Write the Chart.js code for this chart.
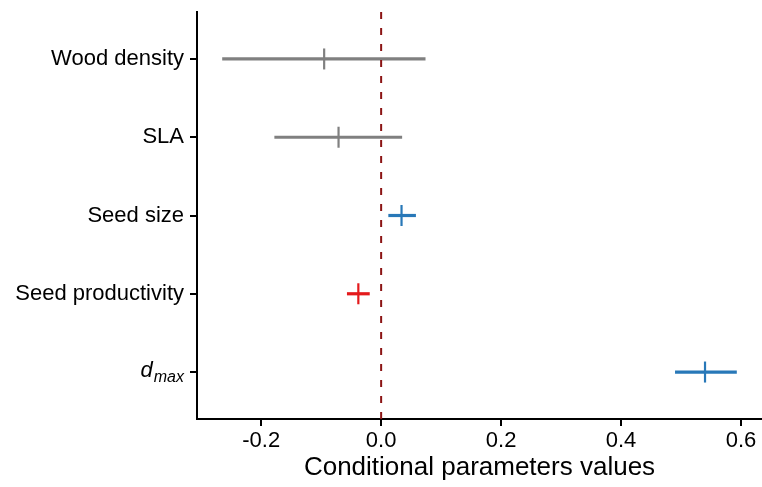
<!DOCTYPE html>
<html>
<head>
<meta charset="utf-8">
<script src="https://cdn.jsdelivr.net/npm/chart.js@4"></script>
<style>
html,body{margin:0;padding:0;background:#fff;}
canvas{display:block;}
</style>
</head>
<body>
<canvas id="c" width="762" height="487"></canvas>
<script>
const categories = ['Wood density', 'SLA', 'Seed size', 'Seed productivity', 'd_max'];
const estimates = [-0.095, -0.071, 0.034, -0.038, 0.540];
const lowerCI = [-0.265, -0.178, 0.012, -0.057, 0.490];
const upperCI = [0.074, 0.035, 0.058, -0.019, 0.593];
const pointColors = ['#808080', '#808080', '#2878B8', '#E41A1C', '#2878B8'];
const xTicks = [-0.2, 0.0, 0.2, 0.4, 0.6];
const xTitle = 'Conditional parameters values';

const FONT = '"Liberation Sans", Arial, Helvetica, sans-serif';

const datasets = [];
// reference line at zero
datasets.push({
  type: 'line',
  data: [{x: 0, y: 0.4}, {x: 0, y: 5.6}],
  borderColor: '#8B1414',
  borderWidth: 2,
  borderDash: [7, 9],
  pointRadius: 0,
  order: 0
});
// center marks
datasets.push({
  type: 'scatter',
  data: estimates.map((v, i) => ({x: v, y: i + 1})),
  pointStyle: 'line',
  rotation: 90,
  pointRadius: 10.5,
  borderWidth: 2.2,
  borderColor: pointColors,
  backgroundColor: pointColors,
  order: 1
});
// intervals
categories.forEach((c, i) => {
  datasets.push({
    type: 'line',
    data: [{x: lowerCI[i], y: i + 1}, {x: upperCI[i], y: i + 1}],
    borderColor: pointColors[i],
    borderWidth: 3.2,
    borderCapStyle: 'butt',
    pointRadius: 0,
    order: 2
  });
});

const dmaxPlugin = {
  id: 'dmax',
  afterDraw(chart) {
    const ys = chart.scales.y;
    const ctx = chart.ctx;
    const idx = categories.indexOf('d_max');
    const yc = ys.getPixelForValue(idx + 1);
    const rightX = ys.right - 7 - 6;
    ctx.save();
    ctx.fillStyle = '#000';
    ctx.textAlign = 'right';
    ctx.textBaseline = 'alphabetic';
    ctx.font = 'italic 16px ' + FONT;
    const w = ctx.measureText('max').width;
    ctx.fillText('max', rightX, yc + 9.5);
    ctx.font = 'italic 22px ' + FONT;
    ctx.fillText('d', rightX - w - 1, yc + 5);
    ctx.restore();
  }
};

const zeroPad = () => ({left: 0, top: 0, right: 0, bottom: 0});

new Chart(document.getElementById('c'), {
  type: 'scatter',
  data: {datasets},
  plugins: [dmaxPlugin],
  options: {
    responsive: false,
    animation: false,
    devicePixelRatio: 1,
    layout: {autoPadding: false, padding: {top: 12, right: 0, left: 0, bottom: 0}},
    plugins: {legend: {display: false}, tooltip: {enabled: false}},
    scales: {
      x: {
        type: 'linear',
        min: -0.307,
        max: 0.635,
        afterBuildTicks: (s) => { s.ticks = xTicks.map(v => ({value: v})); },
        afterFit: (s) => {
          s.height = 68; s.paddingLeft = 0; s.paddingRight = 0;
          s.getPadding = zeroPad;
        },
        ticks: {
          color: '#000',
          font: {family: FONT, size: 22},
          padding: 2,
          maxRotation: 0,
          callback: (v) => Number(v).toFixed(1)
        },
        grid: {drawOnChartArea: false, drawTicks: true, tickLength: 7, color: '#000', lineWidth: 2},
        border: {display: true, color: '#000', width: 2},
        title: {
          display: true,
          text: xTitle,
          color: '#000',
          font: {family: FONT, size: 26},
          padding: {top: 0, bottom: 4}
        }
      },
      y: {
        type: 'linear',
        min: 0.4,
        max: 5.6,
        reverse: true,
        afterBuildTicks: (s) => { s.ticks = categories.map((c, i) => ({value: i + 1})); },
        afterFit: (s) => {
          s.width = 197; s.paddingTop = 0; s.paddingBottom = 0;
          s.getPadding = zeroPad;
        },
        ticks: {
          color: '#000',
          font: {family: FONT, size: 22},
          padding: 6,
          callback: (v) => { const c = categories[Math.round(v) - 1]; return c === 'd_max' ? '' : c; }
        },
        grid: {drawOnChartArea: false, drawTicks: true, tickLength: 7, color: '#000', lineWidth: 2},
        border: {display: true, color: '#000', width: 2}
      }
    }
  }
});
</script>
</body>
</html>
